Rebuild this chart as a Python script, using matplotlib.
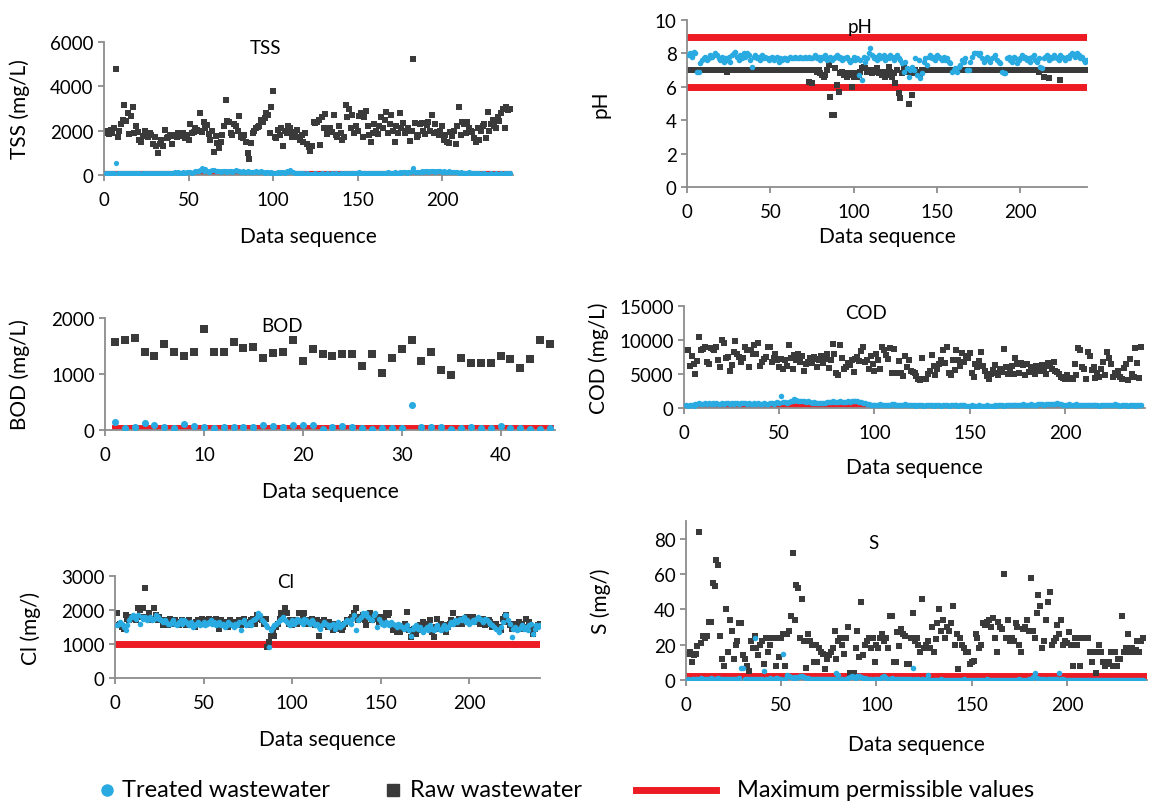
import numpy as np
import matplotlib
matplotlib.use("Agg")
from matplotlib import pyplot as plt
from matplotlib.lines import Line2D

plt.rcParams['font.family'] = ['Lato', 'DejaVu Sans']

AZUL = '#29ABE2'
NEGRO = '#3A3A3A'
ROJO = '#ED1C24'
GRIS = '#8C8C8C'

# ---------------- datos (secuencia 1..240, BOD 1..45) ----------------
tss_raw = [1900, 2000, 1850, 2050, 1900, 2100, 4800, 1700, 2000, 2300,
           2500, 3150, 2450, 2800, 1850, 2650, 3050, 1900, 2200, 1950,
           1600, 1500, 1750, 2000, 1850, 1700, 1900, 1800, 1400, 1700,
           1300, 1000, 1400, 1600, 1300, 2050, 1650, 1700, 1800, 1400,
           1750, 1800, 1700, 1900, 1750, 1850, 1900, 1650, 1800, 1600,
           2300, 1900, 1950, 2100, 2050, 2000, 2800, 1950, 2400, 2100,
           2250, 1850, 1600, 2000, 1050, 1750, 1450, 1200, 1500, 1800,
           2200, 3400, 2450, 2400, 1900, 1800, 2300, 2200, 2000, 2650,
           1700, 1650, 1800, 1500, 1000, 700, 1450, 1900, 2000, 2100,
           2150, 2200, 2500, 2400, 2550, 2800, 2700, 1900, 3050, 3800,
           1700, 1650, 2050, 1800, 2100, 1300, 2000, 1900, 2200, 2100,
           1700, 1950, 1800, 2050, 1700, 1600, 1800, 1500, 1900, 1400,
           1250, 1100, 1300, 2400, 2350, 2400, 2500, 1350, 2600, 2100,
           2750, 1850, 2000, 2100, 1950, 2700, 1800, 1700, 2200, 1900,
           1600, 1700, 3150, 2600, 3000, 2100, 2700, 1900, 2200, 2000,
           2650, 2800, 1700, 2600, 2900, 2200, 1800, 1500, 1900, 2300,
           2000, 1850, 2200, 2600, 2100, 2500, 2850, 1900, 2300, 2700,
           2000, 1500, 2200, 1900, 2800, 2100, 2350, 1900, 2000, 2100,
           1550, 2000, 5250, 2350, 1700, 1800, 2300, 2350, 2000, 1850,
           2250, 2400, 2000, 2700, 1900, 2300, 1950, 1800, 2000, 2200,
           1600, 1800, 1500, 1450, 1950, 1750, 2000, 1400, 2200, 3050,
           1800, 2400, 2300, 1900, 2400, 2100, 2000, 1950, 1650, 1500,
           2100, 1600, 2000, 2200, 2300, 1650, 2850, 2000, 2300, 2500,
           2200, 2100, 2600, 2450, 2800, 3000, 2100, 3050, 2950, 3000]
tss_trat = [90, 80, 100, 70, 90, 110, 550, 80, 90, 100,
            80, 70, 90, 100, 80, 90, 70, 80, 100, 90,
            80, 60, 90, 100, 70, 80, 90, 60, 80, 70,
            60, 80, 90, 70, 100, 80, 90, 110, 80, 100,
            90, 120, 100, 130, 90, 110, 140, 100, 120, 150,
            130, 110, 150, 170, 200, 180, 220, 320, 200, 250,
            180, 150, 200, 220, 240, 180, 160, 200, 150, 170,
            190, 160, 140, 200, 180, 150, 170, 210, 190, 160,
            150, 170, 130, 150, 160, 120, 140, 130, 150, 170,
            140, 120, 160, 130, 110, 150, 120, 100, 130, 110,
            90, 110, 130, 100, 120, 140, 110, 160, 130, 230,
            150, 120, 100, 110, 90, 80, 100, 70, 60, 80,
            50, 40, 60, 50, 70, 40, 60, 50, 70, 60,
            50, 70, 60, 50, 80, 60, 70, 50, 60, 80,
            60, 70, 80, 60, 90, 70, 80, 100, 90, 110,
            130, 100, 80, 90, 70, 80, 100, 90, 80, 70,
            90, 80, 100, 110, 90, 80, 100, 120, 90, 110,
            100, 120, 110, 90, 130, 100, 120, 140, 110, 150,
            130, 160, 330, 150, 120, 140, 130, 160, 150, 170,
            160, 140, 180, 200, 170, 150, 190, 180, 160, 150,
            170, 150, 140, 160, 130, 150, 140, 120, 130, 110,
            120, 100, 110, 90, 100, 120, 90, 100, 80, 70,
            90, 70, 60, 80, 70, 60, 50, 60, 70, 50,
            60, 70, 50, 60, 80, 60, 70, 90, 80, 70]
tss_lim = 100

ph_raw = [7.0] * 23 + [6.9] + [7.0] * 48 + [
          6.3, 7.0, 6.2, 7.0, 7.0, 6.9, 7.0, 6.8,
          6.7, 6.6, 6.7, 7.0, 7.3, 5.4, 4.3, 4.3, 7.1, 6.1,
          5.7, 6.8, 6.9, 6.7, 6.8, 6.6, 6.8, 6.7, 6.0, 6.6,
          6.8, 6.6, 6.7, 6.9, 7.1, 7.2, 7.1, 6.9, 7.0, 6.9,
          6.8, 7.0, 6.9, 7.1, 6.8, 6.9, 6.7, 6.9, 6.6, 6.7,
          7.2, 6.9, 6.6, 6.8, 6.2, 7.0, 5.6, 5.3, 6.8, 7.2,
          6.9, 7.0, 5.0, 6.9, 5.5, 6.8, 7.0, 6.9, 6.8, 6.7] + [7.0] * 70 + [
          6.9, 7.0, 7.0, 6.6, 7.0, 7.0, 6.5, 7.0, 7.0, 7.0,
          7.0, 7.0, 7.0, 6.4, 7.0, 7.0, 7.0, 7.0, 7.0, 7.0,
          7.0, 7.0, 7.0, 7.0, 7.0, 7.0, 7.0, 7.0, 7.0, 7.0]
ph_trat = [7.9, 8.0, 7.8, 8.1, 8.0, 6.9, 6.9, 7.4, 7.6, 7.7,
           7.8, 7.6, 7.7, 7.9, 7.8, 7.9, 8.0, 7.9, 7.7, 7.6,
           7.8, 7.5, 7.7, 7.6, 7.8, 7.5, 7.9, 8.0, 8.1, 7.8,
           7.6, 7.9, 7.7, 8.0, 7.8, 8.0, 7.9, 7.6, 7.2, 7.8,
           7.9, 7.7, 7.8, 7.6, 7.9, 7.7, 7.8, 7.7, 7.6, 7.7,
           7.8, 7.6, 7.7, 7.8, 7.5, 7.7, 7.6, 7.7, 7.7, 7.6,
           7.7, 7.8, 7.7, 7.7, 7.8, 7.7, 7.7, 7.8, 7.7, 7.7,
           7.8, 7.7, 7.8, 7.7, 7.7, 7.8, 7.9, 7.7, 7.8, 7.6,
           7.8, 7.7, 7.9, 7.6, 7.7, 7.8, 7.6, 7.7, 7.8, 7.9,
           7.7, 7.8, 7.6, 7.7, 7.7, 7.8, 7.6, 7.5, 7.6, 7.8,
           7.6, 7.7, 6.7, 7.6, 6.4, 7.8, 7.5, 7.7, 8.0, 8.3,
           7.9, 7.7, 7.8, 7.6, 7.9, 7.7, 7.8, 7.9, 7.6, 7.8,
           7.7, 7.9, 7.8, 7.6, 7.8, 7.9, 7.7, 7.6, 7.4, 6.9,
           7.5, 7.1, 6.6, 7.0, 7.2, 7.0, 7.7, 6.7, 7.6, 6.5,
           6.8, 7.5, 7.7, 7.3, 7.8, 7.9, 7.7, 7.8, 7.6, 7.9,
           7.8, 7.7, 7.6, 7.8, 7.6, 7.7, 7.5, 7.4, 6.9, 7.0,
           7.1, 6.9, 7.2, 7.3, 7.6, 7.5, 7.7, 7.0, 7.0, 7.5,
           7.8, 8.0, 8.0, 8.0, 7.9, 8.0, 7.7, 7.5, 7.6, 7.8,
           7.6, 7.5, 7.7, 7.8, 7.9, 7.6, 7.5, 7.4, 6.9, 6.8,
           6.8, 7.7, 7.8, 7.6, 7.5, 7.8, 7.7, 7.4, 7.6, 7.7,
           7.9, 7.7, 7.8, 7.6, 7.7, 7.5, 7.8, 7.9, 7.6, 7.5,
           7.7, 7.2, 7.1, 7.7, 7.8, 7.9, 7.6, 7.8, 7.7, 7.9,
           7.8, 7.7, 7.6, 7.9, 7.8, 7.7, 7.6, 7.8, 7.7, 7.9,
           8.0, 7.9, 7.8, 8.0, 7.9, 7.7, 7.8, 7.6, 7.5, 7.6]
ph_min, ph_max = 6, 9

bod_raw = [1580, 1600, 1650, 1390, 1330, 1530, 1390, 1330, 1390, 1800,
           1390, 1390, 1580, 1470, 1490, 1290, 1370, 1390, 1600, 1230,
           1440, 1350, 1330, 1350, 1350, 1140, 1350, 1010, 1280, 1440,
           1600, 1240, 1390, 1070, 990, 1280, 1200, 1200, 1200, 1330,
           1260, 1100, 1260, 1600, 1540]
bod_trat = [150, 30, 50, 120, 90, 50, 30, 110, 80, 60,
            40, 50, 50, 60, 50, 90, 80, 50, 90, 90,
            90, 20, 50, 80, 60, 40, 20, 30, 30, 30,
            440, 50, 50, 50, 10, 40, 60, 30, 40, 70,
            30, 30, 20, 10, 40]
bod_lim = 30

cod_raw = [8600, 8600, 6200, 7700, 6500, 5000, 6900, 10400, 8600, 8700,
           8900, 6700, 6500, 8800, 8700, 8600, 9000, 7000, 6000, 10000,
           9500, 7300, 7500, 5500, 6300, 8200, 9900, 8000, 7500, 6800,
           7400, 8900, 8600, 6100, 8500, 8000, 9200, 8000, 9500, 6200,
           6800, 7200, 7500, 8900, 9000, 6700, 7300, 8000, 7000, 6000,
           7200, 5800, 7000, 6200, 9200, 7400, 5700, 7800, 7000, 8000,
           6700, 7600, 5500, 6500, 6800, 7300, 6600, 7500, 7200, 6000,
           7000, 7600, 6600, 7200, 8000, 5900, 7000, 9400, 8000, 5100,
           4900, 9200, 7400, 5800, 6000, 6600, 6300, 7000, 5300, 7200,
           7500, 6900, 8400, 8900, 6800, 7000, 5800, 7600, 6500, 5400,
           8000, 7100, 5800, 8900, 8500, 7800, 7200, 8800, 5100, 8700,
           5100, 5200, 6900, 5100, 4700, 7600, 6000, 7000, 5500, 5300,
           5100, 4700, 4200, 4100, 7400, 4300, 4200, 5000, 5400, 7800,
           6200, 4800, 5700, 6500, 7000, 8500, 6600, 9000, 5200, 4900,
           7000, 5600, 8600, 7100, 6200, 8100, 6700, 7600, 7400, 8100,
           5200, 4600, 6400, 6100, 6900, 8200, 6200, 5400, 4700, 4200,
           5000, 5600, 6300, 5200, 4900, 5700, 5300, 8700, 6000, 5000,
           5800, 6200, 5000, 7300, 6400, 5200, 6600, 6300, 4900, 6500,
           5300, 6100, 5600, 5000, 6200, 5900, 5400, 6300, 5700, 5000,
           6600, 6200, 5800, 6800, 5500, 5300, 5000, 4600, 4400, 4300,
           4800, 4300, 4400, 4300, 6500, 4900, 8800, 8500, 6000, 5800,
           4300, 8300, 7600, 5600, 6000, 4400, 5200, 4600, 5700, 6700,
           4800, 8300, 7400, 6500, 4600, 5100, 4900, 5400, 4500, 4300,
           5900, 6400, 4100, 7200, 5000, 4600, 8800, 6600, 4400, 8900]
cod_trat = [400, 350, 500, 450, 300, 600, 550, 700, 650, 600,
            700, 650, 750, 600, 700, 650, 700, 600, 650, 700,
            600, 750, 700, 650, 700, 600, 750, 700, 650, 700,
            750, 700, 650, 700, 650, 600, 700, 650, 700, 600,
            650, 700, 600, 650, 700, 750, 650, 700, 900, 800,
            1800, 900, 850, 800, 900, 1000, 1100, 1300, 1200, 1100,
            1000, 1100, 1000, 900, 1000, 900, 800, 900, 800, 700,
            800, 700, 750, 800, 900, 850, 950, 1000, 950, 900,
            950, 1000, 950, 900, 950, 1000, 950, 1050, 1000, 1100,
            1050, 950, 900, 800, 700, 600, 550, 500, 450, 400,
            450, 500, 550, 500, 450, 400, 500, 450, 600, 550,
            500, 450, 400, 450, 500, 550, 450, 400, 450, 500,
            400, 350, 400, 450, 400, 350, 400, 450, 500, 400,
            350, 400, 450, 400, 350, 400, 450, 400, 350, 400,
            450, 500, 400, 350, 400, 450, 400, 350, 300, 350,
            400, 350, 300, 350, 400, 350, 300, 350, 400, 350,
            300, 350, 400, 350, 400, 450, 400, 350, 400, 450,
            400, 450, 500, 450, 400, 450, 500, 550, 500, 450,
            500, 550, 500, 450, 500, 550, 600, 550, 500, 600,
            650, 600, 550, 600, 650, 700, 600, 550, 500, 450,
            500, 550, 500, 450, 500, 550, 500, 450, 400, 450,
            500, 450, 400, 450, 500, 450, 400, 350, 400, 450,
            500, 450, 400, 450, 500, 550, 450, 400, 350, 400,
            450, 400, 350, 400, 450, 400, 350, 400, 450, 400]
# limite COD (leido por tramos)
cod_lim_x = [1, 48, 52, 60, 64, 78, 80, 93, 97, 240]
cod_lim_y = [150, 150, 300, 300, 150, 150, 450, 450, 150, 150]

cl_raw = [1900, 1550, 1600, 1500, 1450, 1850, 1750, 1700, 1800, 1750,
          1800, 1700, 2050, 2000, 1800, 2050, 2650, 1800, 1900, 1700,
          1750, 2050, 1850, 1700, 1800, 1700, 1550, 1600, 1700, 1550,
          1750, 1600, 1650, 1700, 1600, 1550, 1650, 1700, 1600, 1550,
          1650, 1700, 1600, 1550, 1500, 1650, 1700, 1600, 1750, 1700,
          1600, 1700, 1750, 1650, 1700, 1600, 1750, 1650, 1450, 1700,
          1600, 1550, 1650, 1500, 1700, 1600, 1550, 1650, 1600, 1700,
          1550, 1650, 1750, 1600, 1550, 1650, 1700, 1750, 1600, 1850,
          1800, 1750, 1700, 1600, 1750, 900, 1050, 1250, 1400, 1250,
          1500, 1600, 1750, 1900, 1800, 2050, 1900, 1600, 1700, 1550,
          1650, 1700, 1600, 1900, 1650, 1750, 1900, 1600, 1700, 1650,
          1750, 1600, 1550, 1700, 1250, 1650, 1550, 1700, 1600, 1500,
          1650, 1550, 1400, 1600, 1500, 1450, 1550, 1400, 1500, 1600,
          1700, 1650, 1750, 1800, 1900, 2050, 1700, 1800, 1750, 1850,
          1700, 1550, 1800, 1900, 1700, 1750, 1850, 1800, 1650, 1700,
          1800, 1750, 1900, 1850, 1900, 1600, 1400, 1450, 1350, 1400,
          1350, 1500, 1450, 1600, 1950, 1400, 1200, 1350, 1450, 1300,
          1500, 1550, 1400, 1650, 1600, 1450, 1550, 1700, 1350, 1200,
          1500, 1750, 1450, 1600, 1400, 1550, 1350, 1500, 1600, 1700,
          1900, 1650, 1600, 1750, 1700, 1600, 1750, 1650, 1800, 1750,
          1700, 1800, 1650, 1750, 1700, 1600, 1650, 1750, 1550, 1600,
          1700, 1650, 1500, 1550, 1600, 1450, 1500, 1400, 1750, 1800,
          1850, 1650, 1550, 1450, 1600, 1500, 1550, 1650, 1600, 1550,
          1450, 1750, 1500, 1650, 1400, 1300, 1450, 1500, 1550, 1600]
cl_trat = [1550, 1600, 1650, 1600, 1500, 1400, 1550, 1700, 1800, 1850,
           1800, 1750, 1850, 1600, 1800, 1750, 1800, 1700, 1750, 1800,
           1700, 1750, 1850, 1800, 1750, 1700, 1650, 1700, 1650, 1600,
           1600, 1650, 1700, 1600, 1550, 1650, 1700, 1600, 1700, 1650,
           1600, 1550, 1650, 1500, 1550, 1600, 1650, 1550, 1600, 1650,
           1550, 1600, 1650, 1700, 1600, 1650, 1550, 1600, 1650, 1550,
           1600, 1500, 1550, 1650, 1600, 1550, 1500, 1600, 1550, 1650,
           1400, 1650, 1700, 1550, 1600, 1650, 1550, 1700, 1750, 1800,
           1900, 1850, 1700, 1650, 1550, 1500, 900, 1400, 1500, 1550,
           1600, 1650, 1700, 1750, 1800, 1700, 1650, 1600, 1550, 1700,
           1600, 1650, 1750, 1700, 1650, 1600, 1750, 1700, 1650, 1600,
           1700, 1650, 1550, 1600, 1500, 1450, 1550, 1650, 1600, 1550,
           1500, 1550, 1600, 1450, 1550, 1650, 1500, 1550, 1600, 1650,
           1700, 1650, 1600, 1750, 1850, 1400, 1700, 1750, 1800, 1900,
           1850, 1900, 1800, 1750, 1700, 1850, 1900, 1500, 1750, 1650,
           1600, 1550, 1650, 1600, 1550, 1650, 1600, 1550, 1500, 1600,
           1550, 1500, 1450, 1500, 1550, 1400, 1250, 1450, 1500, 1550,
           1450, 1500, 1400, 1350, 1450, 1500, 1400, 1550, 1450, 1400,
           1500, 1550, 1450, 1400, 1500, 1550, 1450, 1500, 1600, 1650,
           1600, 1700, 1650, 1700, 1750, 1700, 1800, 1650, 1700, 1600,
           1650, 1700, 1650, 1750, 1800, 1750, 1700, 1650, 1750, 1700,
           1650, 1600, 1550, 1500, 1450, 1400, 1350, 1500, 1650, 1850,
           1850, 1700, 1600, 1200, 1450, 1500, 1400, 1450, 1500, 1550,
           1450, 1500, 1400, 1550, 1600, 1300, 1450, 1550, 1500, 1550]
cl_lim = 1000

s_raw = [15, 16, 10, 14, 15, 19, 84, 21, 25, 24,
         25, 33, 33, 55, 53, 68, 65, 25, 12, 8,
         40, 16, 34, 28, 12, 20, 22, 32, 32, 14,
         12, 8, 5, 22, 18, 25, 18, 14, 20, 22,
         9, 24, 16, 20, 24, 24, 8, 24, 13, 24,
         26, 8, 26, 28, 36, 72, 34, 54, 52, 24,
         46, 22, 7, 26, 22, 20, 10, 20, 10, 18,
         16, 15, 6, 12, 14, 16, 18, 28, 12, 22,
         24, 20, 15, 24, 30, 4, 4, 4, 18, 28,
         13, 44, 14, 20, 22, 24, 18, 24, 10, 20,
         18, 24, 26, 22, 24, 18, 36, 36, 10, 10,
         27, 19, 29, 26, 25, 9, 9, 24, 38, 22,
         24, 20, 16, 46, 18, 20, 22, 18, 30, 16,
         23, 32, 40, 28, 34, 24, 30, 28, 32, 42,
         20, 26, 6, 24, 20, 18, 16, 16, 9, 10,
         11, 26, 24, 18, 20, 32, 31, 33, 34, 30,
         35, 24, 16, 33, 30, 29, 60, 24, 34, 22,
         24, 22, 32, 30, 20, 16, 29, 30, 34, 28,
         58, 28, 24, 38, 48, 42, 18, 22, 34, 44,
         50, 20, 22, 24, 31, 26, 34, 20, 22, 21,
         27, 20, 8, 24, 20, 24, 8, 24, 24, 24,
         24, 16, 10, 16, 4, 16, 20, 16, 10, 8,
         9, 10, 16, 8, 16, 8, 12, 12, 36, 16,
         18, 26, 16, 18, 16, 17, 22, 16, 22, 24]
s_trat = [0.3, 0.2, 0.4, 0.3, 0.5, 0.8, 0.4, 1.0, 0.6, 0.5,
          0.4, 0.7, 1.0, 0.5, 0.3, 0.6, 1.0, 0.8, 0.5, 0.4,
          0.3, 0.5, 0.4, 0.6, 0.5, 0.8, 0.3, 1.0, 7.0, 7.0,
          0.8, 0.5, 0.4, 0.6, 0.5, 24, 0.8, 0.5, 0.3, 0.6,
          5.0, 0.5, 0.8, 1.0, 0.6, 0.8, 1.2, 1.0, 0.8, 0.7,
          15, 0.8, 3.0, 2.5, 1.5, 1.2, 1.5, 1.0, 1.5, 2.0,
          2.0, 1.5, 1.2, 1.0, 0.8, 0.5, 0.6, 0.4, 0.8, 0.5,
          0.3, 0.4, 0.5, 0.3, 0.6, 0.4, 0.5, 0.8, 4.0, 3.0,
          0.2, 0.3, 0.2, 0.5, 1.0, 1.5, 2.0, 1.5, 1.0, 2.5,
          2.0, 1.5, 1.2, 1.0, 0.8, 0.6, 0.3, 0.2, 0.4, 0.3,
          0.5, 0.8, 1.5, 2.0, 1.2, 0.8, 0.5, 1.0, 0.8, 0.6,
          0.4, 0.3, 0.5, 0.4, 0.3, 0.6, 0.4, 0.5, 7.0, 0.3,
          0.2, 0.3, 0.2, 0.3, 0.2, 0.3, 3.0, 0.2, 0.1, 0.2,
          0.2, 0.1, 0.2, 0.3, 0.2, 0.1, 0.2, 0.2, 0.1, 0.2,
          0.1, 0.2, 0.2, 0.1, 0.2, 0.3, 0.2, 0.1, 0.2, 0.2,
          0.1, 0.2, 0.1, 0.2, 0.2, 0.1, 0.2, 0.3, 0.2, 0.1,
          0.2, 0.1, 0.2, 0.2, 0.1, 0.2, 0.1, 0.2, 0.2, 0.1,
          0.2, 0.2, 0.1, 0.2, 0.3, 0.2, 0.1, 0.2, 0.2, 0.3,
          0.5, 1.5, 4.0, 1.0, 0.5, 0.8, 0.4, 0.3, 0.2, 0.3,
          0.5, 0.8, 0.4, 0.3, 0.5, 4.0, 0.6, 0.3, 0.2, 0.1,
          0.2, 0.1, 0.2, 0.1, 0.2, 0.2, 0.1, 0.2, 0.1, 0.2,
          0.1, 0.2, 0.2, 0.1, 0.2, 0.1, 0.2, 0.1, 0.2, 0.2,
          0.1, 0.2, 0.1, 0.2, 0.2, 0.1, 0.2, 0.1, 0.2, 0.1,
          0.2, 0.1, 0.2, 0.2, 0.1, 0.2, 0.1, 0.2, 0.2, 0.2]
s_lim = 2

seq = np.arange(1, 241)
seq_bod = np.arange(1, 46)

# ---------------- figura ----------------
W, H = 1157, 803
fig = plt.figure(figsize=(W / 100, H / 100), dpi=100)


def caja(l, t, r, b):
    return [l / W, 1 - b / H, (r - l) / W, (b - t) / H]


def panel(px, xmax, ymax, xt, yt, titulo, tit_xy, ylab, ylab_x, xlab_off):
    l, t, r, b = px
    ax = fig.add_axes(caja(l, t, r, b))
    ax.set_xlim(0, xmax)
    ax.set_ylim(0, ymax)
    ax.set_xticks(xt)
    ax.set_yticks(yt)
    for s in ['top', 'right']:
        ax.spines[s].set_visible(False)
    for s in ['left', 'bottom']:
        ax.spines[s].set_color(GRIS)
        ax.spines[s].set_linewidth(1.3)
    ax.tick_params(direction='out', length=4.5, width=1.3, color=GRIS,
                   labelsize=13.5)
    ax.tick_params(axis='x', pad=7)
    ax.tick_params(axis='y', pad=3)
    ax.text((tit_xy[0] - l) / (r - l), (b - tit_xy[1]) / (b - t), titulo,
            transform=ax.transAxes, ha='center', va='center', fontsize=13.5)
    ax.set_ylabel(ylab, fontsize=15)
    ax.yaxis.set_label_coords((ylab_x - l) / (r - l), 0.5)
    ax.yaxis.label.set_va('center')
    ax.set_xlabel('Data sequence', fontsize=15)
    ax.xaxis.set_label_coords(0.5, -xlab_off / (b - t))
    ax.xaxis.label.set_va('center')
    return ax


# TSS
ax = panel((104, 43, 513, 176), 242, 6000, [0, 50, 100, 150, 200],
           [0, 2000, 4000, 6000], 'TSS', (266, 49), 'TSS (mg/L)', 20, 61)
ax.plot(seq, [tss_lim] * len(seq), color=ROJO, lw=3, zorder=1)
ax.scatter(seq, tss_raw, s=16, marker='s', color=NEGRO, lw=0, zorder=2)
ax.scatter(seq, tss_trat, s=14, marker='o', color=AZUL, lw=0, zorder=3)

# pH
ax = panel((687, 21, 1087, 188), 240, 10, [0, 50, 100, 150, 200],
           [0, 2, 4, 6, 8, 10], 'pH', (860, 27), 'pH', 601, 49)
ax.plot(seq, [ph_max] * len(seq), color=ROJO, lw=5, zorder=1)
ax.plot(seq, [ph_min] * len(seq), color=ROJO, lw=5, zorder=1)
ax.scatter(seq, ph_raw, s=18, marker='s', color=NEGRO, lw=0, zorder=2)
ax.scatter(seq, ph_trat, s=16, marker='o', color=AZUL, lw=0, zorder=3)

# BOD
ax = panel((105, 319, 555, 431), 45.5, 2000, [0, 10, 20, 30, 40],
           [0, 1000, 2000], 'BOD', (282, 327), 'BOD (mg/L)', 20, 61)
ax.plot(seq_bod, [bod_lim] * len(seq_bod), color=ROJO, lw=5, zorder=1)
ax.scatter(seq_bod, bod_raw, s=34, marker='s', color=NEGRO, lw=0, zorder=2)
ax.scatter(seq_bod, bod_trat, s=26, marker='o', color=AZUL, lw=0, zorder=3)

# COD
ax = panel((684, 307, 1145, 409), 242, 15000, [0, 50, 100, 150, 200],
           [0, 5000, 10000, 15000], 'COD', (866, 314), 'COD (mg/L)', 599, 59)
ax.plot(cod_lim_x, cod_lim_y, color=ROJO, lw=4, zorder=1)
ax.scatter(seq, cod_raw, s=18, marker='s', color=NEGRO, lw=0, zorder=2)
ax.scatter(seq, cod_trat, s=16, marker='o', color=AZUL, lw=0, zorder=3)

# Cl
ax = panel((115, 577, 540, 679), 240, 3000, [0, 50, 100, 150, 200],
           [0, 1000, 2000, 3000], 'Cl', (286, 583), 'Cl (mg/)', 31, 61)
ax.plot(seq, [cl_lim] * len(seq), color=ROJO, lw=5, zorder=1)
ax.scatter(seq, cl_raw, s=18, marker='s', color=NEGRO, lw=0, zorder=2)
ax.scatter(seq, cl_trat, s=16, marker='o', color=AZUL, lw=0, zorder=3)

# S
ax = panel((686, 522, 1147, 681), 242, 90, [0, 50, 100, 150, 200],
           [0, 20, 40, 60, 80], 'S', (873, 544), 'S (mg/)', 601, 64)
ax.plot(seq, [s_lim] * len(seq), color=ROJO, lw=5, zorder=1)
ax.scatter(seq, s_raw, s=18, marker='s', color=NEGRO, lw=0, zorder=2)
ax.scatter(seq, s_trat, s=16, marker='o', color=AZUL, lw=0, zorder=3)

# leyenda manual abajo
yl = 1 - 791 / H
fig.add_artist(Line2D([107 / W], [yl], marker='o', ms=8, color=AZUL, ls='none',
                      transform=fig.transFigure))
fig.text(122 / W, yl, 'Treated wastewater', va='center', fontsize=17)
fig.add_artist(Line2D([393 / W], [yl], marker='s', ms=8, color=NEGRO, ls='none',
                      transform=fig.transFigure))
fig.text(410 / W, yl, 'Raw wastewater', va='center', fontsize=17)
fig.add_artist(Line2D([636 / W, 716 / W], [yl, yl], color=ROJO, lw=5,
                      transform=fig.transFigure))
fig.text(737 / W, yl, 'Maximum permissible values', va='center', fontsize=17)

plt.savefig("out.png", dpi=100)
